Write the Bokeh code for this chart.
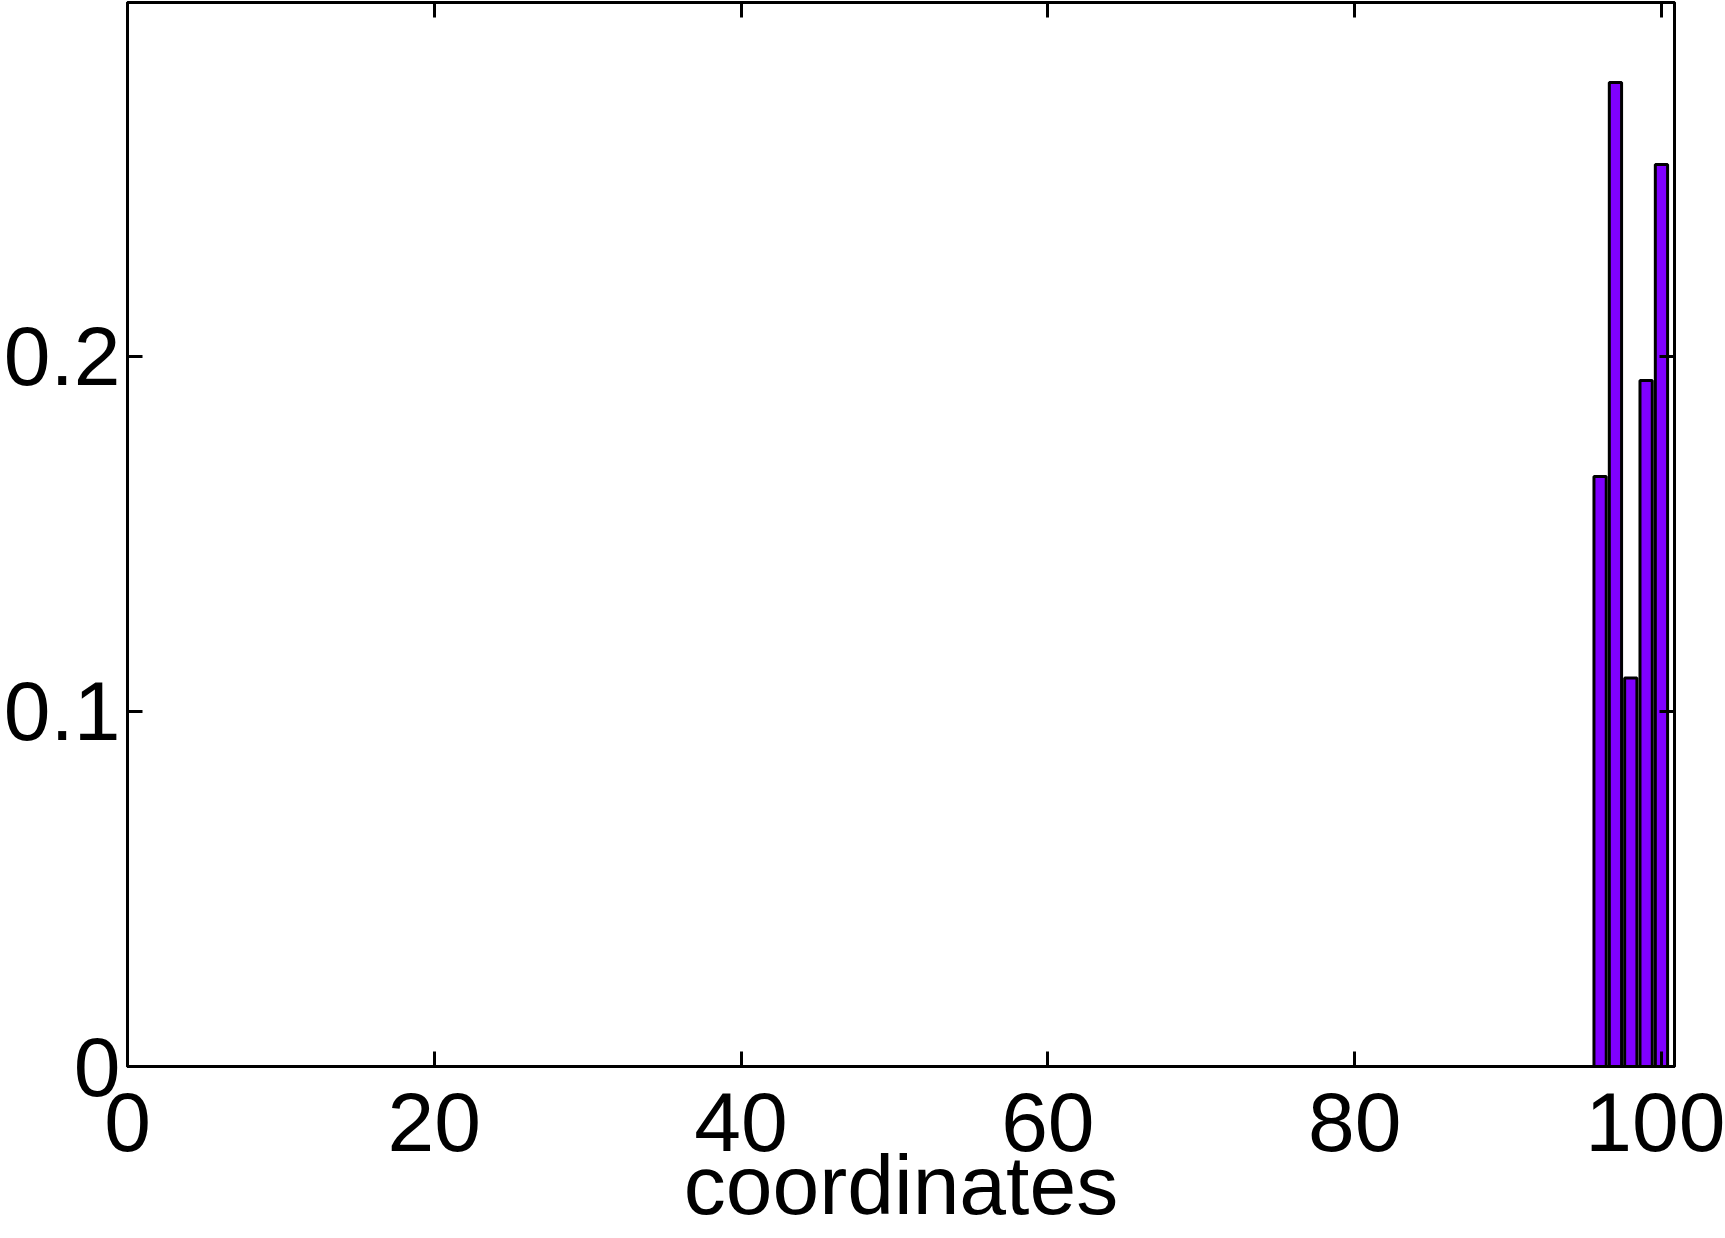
from bokeh.plotting import figure
from bokeh.models import LinearAxis, FixedTicker, Range1d
from bokeh.embed import file_html
from bokeh.resources import INLINE

# data
coordinates = [96, 97, 98, 99, 100]
frequency = [0.1662, 0.2772, 0.1094, 0.1932, 0.2541]
x_ticks = [0, 20, 40, 60, 80, 100]
y_ticks = [0, 0.1, 0.2]
y_tick_labels = {0: "0", 0.1: "0.1", 0.2: "0.2"}
x_label = "coordinates"

FONT = "Liberation Sans"
FS = "84px"
X_MAX = 100.85
Y_MAX = 0.2997

p = figure(width=1725, height=1238, output_backend="svg", toolbar_location=None,
           x_range=Range1d(0, X_MAX), y_range=Range1d(0, Y_MAX),
           min_border_left=125, min_border_right=51, min_border_top=2, min_border_bottom=172)
p.xgrid.visible = False
p.ygrid.visible = False
p.background_fill_color = "white"
p.border_fill_color = "white"
p.outline_line_color = "black"
p.outline_line_width = 3

p.vbar(x=coordinates, top=frequency, width=0.8, bottom=0,
       fill_color="#8000FF", line_color="black", line_width=3)

def style(ax, ticks):
    ax.ticker = FixedTicker(ticks=ticks)
    ax.major_tick_in = 15
    ax.major_tick_out = 0
    ax.major_tick_line_width = 3
    ax.major_tick_line_color = "black"
    ax.minor_tick_line_color = None
    ax.axis_line_width = 3
    ax.axis_line_color = "black"
    ax.major_label_text_font = FONT
    ax.major_label_text_font_size = FS
    ax.major_label_text_color = "black"

xa = p.xaxis[0]
style(xa, x_ticks)
xa.major_label_standoff = 26
xa.axis_label = x_label
xa.axis_label_text_font = FONT
xa.axis_label_text_font_size = FS
xa.axis_label_text_font_style = "normal"
xa.axis_label_text_color = "black"
xa.axis_label_standoff = -16

ya = p.yaxis[0]
style(ya, y_ticks)
ya.major_label_overrides = y_tick_labels
ya.major_label_standoff = 7

top = LinearAxis()
style(top, x_ticks)
top.major_label_text_font_size = "0px"
top.major_label_standoff = 0
top.major_label_overrides = {t: "" for t in x_ticks}
p.add_layout(top, "above")

right = LinearAxis()
style(right, y_ticks)
right.major_label_text_font_size = "0px"
right.major_label_standoff = 0
right.major_label_overrides = {t: "" for t in y_ticks}
p.add_layout(right, "right")

open("out.html", "w").write(file_html(p, INLINE))
